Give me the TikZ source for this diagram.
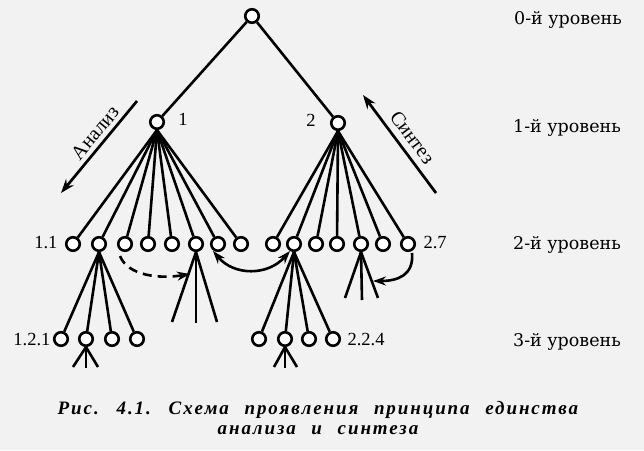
\documentclass[tikz,border=0pt]{standalone}
\usepackage{fontspec}
\setmainfont{Liberation Serif}
\newfontfamily\lvlfont{DejaVu Serif}
\newfontfamily\capfont[LetterSpace=10]{Liberation Serif}
\usetikzlibrary{arrows.meta}
\tikzset{
  circ/.style={circle, draw, line width=2.6pt, minimum size=13.5pt, inner sep=0pt, fill=white},
  ln/.style={line width=2.6pt},
  arr/.style={line width=2.7pt, -{Stealth[length=14pt,width=10pt]}},
  tip/.style={-{Stealth[length=13pt,width=9pt]}},
  lvl/.style={font=\lvlfont\fontsize{17.5}{18}\selectfont, anchor=center},
  num/.style={font=\fontsize{18.5}{19}\selectfont},
  dirtext/.style={font=\fontsize{20}{21}\selectfont},
}
\begin{document}
\begin{tikzpicture}[x=1pt,y=-1pt]
\useasboundingbox[fill=black!5] (0,0) rectangle (644,450);
% level 0,1
\node[circ] (r) at (252,16) {};
\node[circ] (n1) at (157,122) {};
\node[circ] (n2) at (338,123) {};
\draw[ln] (r) -- (n1);
\draw[ln] (r) -- (n2);
% level 2
\foreach \i/\x in {1/73,2/99,3/125,4/148,5/172,6/196,7/218,8/241}
  \node[circ] (a\i) at (\x,244) {};
\foreach \i/\x in {1/273,2/294,3/316,4/337,5/361,6/383,7/408}
  \node[circ] (b\i) at (\x,244) {};
\foreach \i in {1,...,8} \draw[ln] (n1.south) -- (a\i);
\foreach \i in {1,...,7} \draw[ln] (n2.south) -- (b\i);
% level 3
\foreach \i/\x in {1/61,2/86,3/112,4/137}
  \node[circ] (c\i) at (\x,339) {};
\foreach \i/\x in {1/259,2/285,3/309,4/333}
  \node[circ] (d\i) at (\x,339) {};
\foreach \i in {1,...,4} \draw[ln] (a2.south) -- (c\i);
\foreach \i in {1,...,4} \draw[ln] (b2.south) -- (d\i);
% stubs
\coordinate (s1) at (172,322); \coordinate (s2) at (196,323); \coordinate (s3) at (217,322);
\foreach \s in {s1,s2,s3} \draw[ln] (a6.south) -- (\s);
\coordinate (t1) at (345,298); \coordinate (t2) at (362,300); \coordinate (t3) at (378,298);
\foreach \s in {t1,t2,t3} \draw[ln] (b5.south) -- (\s);
\coordinate (u1) at (73,367); \coordinate (u2) at (86,368); \coordinate (u3) at (98,367);
\foreach \s in {u1,u2,u3} \draw[ln] (c2.south) -- (\s);
\coordinate (v1) at (274,367); \coordinate (v2) at (285,368); \coordinate (v3) at (297,367);
\foreach \s in {v1,v2,v3} \draw[ln] (d2.south) -- (\s);
% curved arrows
\coordinate (da) at (120,256); \coordinate (db) at (190,274);
\draw[ln, dash pattern=on 9pt off 6pt, tip] (da) .. controls (128,276) and (160,279) .. (db);
\coordinate (ea) at (213,251); \coordinate (eb) at (290,251);
\draw[ln, {Stealth[length=13pt,width=9pt]}-{Stealth[length=13pt,width=9pt]}] (ea) .. controls (234,276) and (268,276) .. (eb);
\coordinate (fa) at (412,253); \coordinate (fb) at (373,281);
\draw[ln, tip] (fa) .. controls (414,275) and (398,281) .. (fb);
% analysis / synthesis arrows
\coordinate (aS) at (137,101); \coordinate (aE) at (61,193);
\draw[arr] (aS) -- (aE);
\path (aE) -- (aS) node[pos=0.57, sloped, above=2pt, dirtext] (tA) {Анализ};
\coordinate (sS) at (436,193); \coordinate (sE) at (363,95);
\draw[arr] (sS) -- (sE);
\path (sE) -- (sS) node[pos=0.52, sloped, above=4pt, dirtext] (tS) {Синтез};
% numbers
\node[num] (l1) at (183,119) {1};
\node[num] (l2) at (311,120) {2};
\node[num, anchor=east] (l11) at (61,243) {1.1};
\node[num, anchor=west] (l27) at (420,243) {2.7};
\node[num, anchor=east] (l121) at (54,339) {1.2.1};
\node[num, anchor=west] (l224) at (344,339) {2.2.4};
% level labels
\node[lvl] (L0) at (568,20) {0-й уровень};
\node[lvl] (L1) at (567,128) {1-й уровень};
\node[lvl] (L2) at (567,245) {2-й уровень};
\node[lvl] (L3) at (567,342) {3-й уровень};
% caption
\node[font=\capfont\itshape\bfseries\fontsize{19}{20}\selectfont, align=center, inner sep=0pt] (cap) at (318,418)
  {Рис.\hspace{9pt} 4.1.\hspace{9pt} Схема\hspace{9pt} проявления\hspace{9pt} принципа\hspace{9pt} единства\\анализа\hspace{9pt} и\hspace{9pt} синтеза};
\end{tikzpicture}
\end{document}
